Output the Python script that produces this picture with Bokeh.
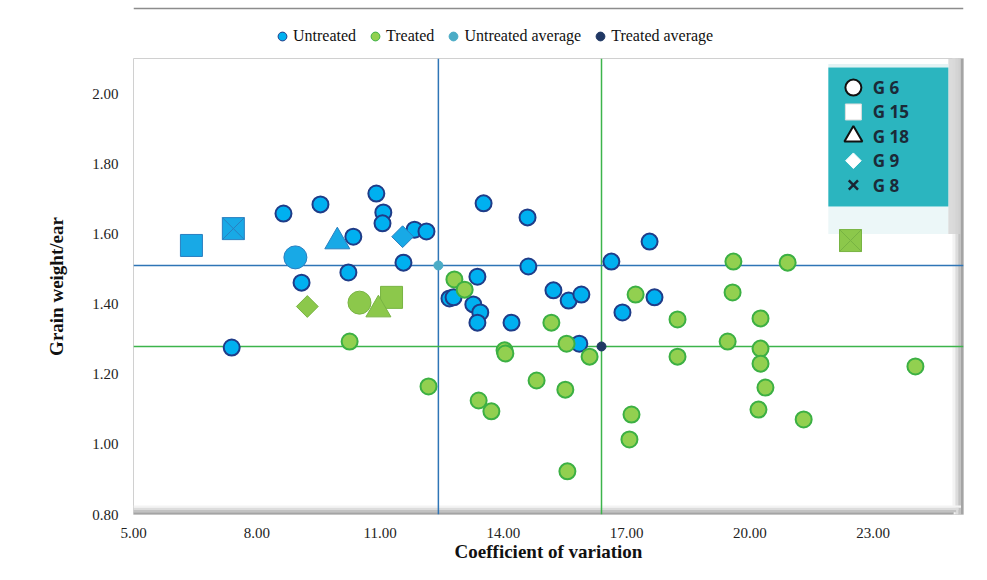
import math
from bokeh.plotting import figure
from bokeh.layouts import column
from bokeh.models import Span, Legend, LegendItem, BoxAnnotation, FixedTicker, NumeralTickFormatter
from bokeh.core.properties import value
from bokeh.embed import file_html
from bokeh.resources import INLINE

# ---------------- data ----------------
untreated_cv = [7.39, 8.65, 9.55, 9.09, 10.23, 10.35, 10.91, 11.08, 11.06, 11.57,
                11.84, 12.13, 13.52, 14.59, 17.56, 14.61, 16.63, 13.37, 12.69, 12.79,
                15.22, 15.59, 15.90, 13.27, 13.44, 13.37, 14.20, 16.90, 17.68, 15.85]
untreated_gw = [1.276, 1.658, 1.684, 1.461, 1.490, 1.592, 1.715, 1.661, 1.630, 1.518,
                1.612, 1.607, 1.687, 1.647, 1.578, 1.507, 1.521, 1.478, 1.416, 1.419,
                1.439, 1.410, 1.427, 1.399, 1.376, 1.347, 1.347, 1.376, 1.419, 1.287]
treated_cv = [12.81, 13.06, 15.17, 15.54, 14.03, 14.05, 16.10, 14.81, 15.51, 13.40,
              13.71, 17.12, 17.07, 15.56, 17.22, 18.24, 18.24, 19.46, 19.60, 19.58,
              20.92, 20.26, 20.26, 20.26, 20.38, 20.21, 21.31, 24.03, 10.26, 12.18]
treated_gw = [1.470, 1.441, 1.347, 1.287, 1.268, 1.259, 1.250, 1.182, 1.156, 1.125,
              1.094, 1.085, 1.014, 0.923, 1.427, 1.356, 1.250, 1.293, 1.521, 1.433,
              1.518, 1.359, 1.273, 1.230, 1.162, 1.099, 1.071, 1.222, 1.293, 1.165]

genotypes = ["G 6", "G 15", "G 18", "G 9", "G 8"]
genotype_markers = ["circle", "square", "triangle", "diamond", "square_x"]
untreated_geno_cv = [8.94, 6.41, 9.96, 11.55, 7.43]
untreated_geno_gw = [1.533, 1.567, 1.578, 1.592, 1.615]
treated_geno_cv = [10.50, 11.28, 10.96, 9.23, 22.45]
treated_geno_gw = [1.404, 1.419, 1.384, 1.393, 1.581]

untreated_avg_cv = [12.42]
untreated_avg_gw = [1.510]
treated_avg_cv = [16.39]
treated_avg_gw = [1.279]

series_labels = ["Untreated", "Treated", "Untreated average", "Treated average"]
x_ticks = [5, 8, 11, 14, 17, 20, 23]
y_ticks = [0.8, 1.0, 1.2, 1.4, 1.6, 1.8, 2.0]

# ---------------- styles ----------------
C_UNT = "#00b0f0"
C_UNT_LINE = "#1f3c88"
C_TRT = "#92d050"
C_TRT_LINE = "#3cb043"
C_UNT_AVG = "#4bacc6"
C_TRT_AVG = "#203864"
C_VBLUE = "#2e75b6"
C_VGREEN = "#3cb44b"
SERIF = "Liberation Serif"
NAN = [float("nan")]
W = 971

# ---------------- top strip with the series legend ----------------
top = figure(width=W, height=57, x_range=(0, W), y_range=(0, 57),
             x_axis_type=None, y_axis_type=None, output_backend="svg",
             toolbar_location=None, min_border=0)
top.grid.visible = False
top.outline_line_color = None
top.add_layout(Span(location=49, dimension="width", line_color="#8c8c8c", line_width=1.5))
leg_styles = [dict(fill_color=C_UNT, line_color=C_UNT_LINE, line_width=1),
              dict(fill_color=C_TRT, line_color=C_TRT_LINE, line_width=1),
              dict(fill_color=C_UNT_AVG, line_color=C_UNT_AVG),
              dict(fill_color=C_TRT_AVG, line_color=C_TRT_AVG)]
leg_r = [top.scatter(NAN, NAN, marker="circle", **st) for st in leg_styles]
top_legend = Legend(items=[LegendItem(label=l, renderers=[r]) for l, r in zip(series_labels, leg_r)],
                    orientation="horizontal", location=(138, 10),
                    background_fill_alpha=0, border_line_color=None,
                    padding=0, margin=0, spacing=8, glyph_width=22, glyph_height=22,
                    label_standoff=0, label_text_font=SERIF, label_text_font_size="16px",
                    label_text_color="#111111")
top.add_layout(top_legend, "center")

# ---------------- main plot ----------------
p = figure(width=W, height=507, x_range=(5, 25.2), y_range=(0.8, 2.1),
           output_backend="svg", toolbar_location=None,
           min_border_left=133, min_border_right=8, min_border_top=1, min_border_bottom=50)
p.grid.visible = False
p.outline_line_color = "#d0d0d0"
p.background_fill_color = "white"

for ax in (p.xaxis[0], p.yaxis[0]):
    ax.axis_line_color = None
    ax.major_tick_line_color = None
    ax.minor_tick_line_color = None
    ax.major_tick_out = 0
    ax.major_tick_in = 0
    ax.minor_tick_out = 0
    ax.minor_tick_in = 0
    ax.formatter = NumeralTickFormatter(format="0.00")
    ax.major_label_text_font = SERIF
    ax.major_label_text_font_size = "15px"
    ax.major_label_text_color = "#222222"
    ax.axis_label_text_font = SERIF
    ax.axis_label_text_font_style = "bold"
    ax.axis_label_text_font_size = "19px"
    ax.axis_label_text_color = "#111111"

p.xaxis.ticker = FixedTicker(ticks=x_ticks)
p.yaxis.ticker = FixedTicker(ticks=y_ticks)
p.xaxis.axis_label = "Coefficient of variation"
p.yaxis.axis_label = "Grain weight/ear"
p.xaxis.major_label_standoff = 13
p.xaxis.axis_label_standoff = 0
p.yaxis.major_label_standoff = 15
p.yaxis.axis_label_standoff = 22

# frame shadow (right & bottom)
shade = ["#f3f3f3", "#dcdcdc", "#c2c2c2", "#a4a4a4"]
xs = [24.93, 25.0, 25.07, 25.13, 25.2]
for i, c in enumerate(shade):
    p.add_layout(BoxAnnotation(left=xs[i], right=xs[i + 1], fill_color=c, fill_alpha=1,
                               line_color=None, level="underlay"))
ys = [0.8257, 0.8193, 0.8129, 0.8064, 0.8]
for i, c in enumerate(shade):
    p.add_layout(BoxAnnotation(top=ys[i], bottom=ys[i + 1], right=25.2 - (i + 1) * 0.06,
                               fill_color=c, fill_alpha=1, line_color=None, level="underlay"))

# average lines
p.add_layout(Span(location=untreated_avg_cv[0], dimension="height", line_color=C_VBLUE,
                  line_width=1.5, level="underlay"))
p.add_layout(Span(location=treated_avg_cv[0], dimension="height", line_color=C_VGREEN,
                  line_width=1.5, level="underlay"))
p.add_layout(Span(location=untreated_avg_gw[0], dimension="width", line_color=C_VBLUE,
                  line_width=1.5, level="underlay"))
p.add_layout(Span(location=treated_avg_gw[0], dimension="width", line_color=C_VGREEN,
                  line_width=1.5, level="underlay"))

# inset key reflection (under the points)
KEY_L, KEY_R, KEY_T, KEY_B = 21.91, 24.83, 2.074, 1.678
p.add_layout(BoxAnnotation(left=KEY_L, right=KEY_R, top=KEY_B, bottom=1.60,
                           fill_color="#eaf6f7", fill_alpha=0.9, line_color=None, level="underlay"))

# points
p.scatter(untreated_cv, untreated_gw, size=16, marker="circle",
          fill_color=C_UNT, line_color=C_UNT_LINE, line_width=2)
p.scatter(treated_cv, treated_gw, size=16, marker="circle",
          fill_color=C_TRT, line_color=C_TRT_LINE, line_width=2)


def marker_args(m, size):
    # diamonds drawn as squares turned by 45 degrees (equal width and height)
    if m == "diamond":
        return dict(marker="square", angle=math.pi / 4, size=size * 0.7)
    return dict(marker=m, size=size)


geno_sizes = {"circle": 23, "square": 22, "triangle": 25, "diamond": 22, "square_x": 22}
for i, m in enumerate(genotype_markers):
    p.scatter([untreated_geno_cv[i]], [untreated_geno_gw[i]], **marker_args(m, geno_sizes[m]),
              fill_color="#18a9e6", line_color="#2a7fc0", line_width=1)
    p.scatter([treated_geno_cv[i]], [treated_geno_gw[i]], **marker_args(m, geno_sizes[m]),
              fill_color="#8cc84b", line_color="#78b443", line_width=1)

p.scatter(untreated_avg_cv, untreated_avg_gw, size=9, marker="circle",
          fill_color=C_UNT_AVG, line_color=C_UNT_AVG)
p.scatter(treated_avg_cv, treated_avg_gw, size=9, marker="circle",
          fill_color=C_TRT_AVG, line_color=C_TRT_AVG)

# ---------------- inset genotype key ----------------
p.add_layout(BoxAnnotation(left=KEY_R, right=25.12, top=2.1, bottom=1.60,
                           fill_color="#d2d2d2", fill_alpha=0.8, line_color=None))
p.add_layout(BoxAnnotation(left=KEY_L, right=KEY_R, top=KEY_T + 0.01, bottom=KEY_T,
                           fill_color="#e3f3f4", fill_alpha=1, line_color=None))
p.add_layout(BoxAnnotation(left=KEY_L, right=KEY_R, top=KEY_T, bottom=KEY_B,
                           fill_color="#2bb5bf", fill_alpha=1, line_color=None))

row_step = (KEY_T - KEY_B) / 5.7
key_y = [KEY_T - row_step * (0.82 + i) for i in range(len(genotypes))]
key_mx = KEY_L + 0.61
key_tx = KEY_L + 1.08
key_styles = [dict(marker="circle", size=16, fill_color="white", line_color="#111111", line_width=2),
              dict(marker="square", size=16, fill_color="white", line_color="#dddddd", line_width=1),
              dict(marker="triangle", size=18, fill_color="white", line_color="#111111", line_width=2),
              dict(marker="square", angle=math.pi / 4, size=11, fill_color="white",
                   line_color="white", line_width=1),
              dict(marker="x", size=13, line_color="#1a2533", line_width=2.5)]
for yy, st in zip(key_y, key_styles):
    p.scatter([key_mx], [yy], level="overlay", **st)
p.text(x=[key_tx] * len(genotypes), y=key_y, text=genotypes, text_font=value("Open Sans"),
       text_font_style="bold", text_font_size="17px", text_color="#1b2a38",
       text_baseline="middle", text_align="left", level="overlay")

layout = column(top, p, spacing=0)
open("out.html", "w").write(file_html(layout, INLINE))
